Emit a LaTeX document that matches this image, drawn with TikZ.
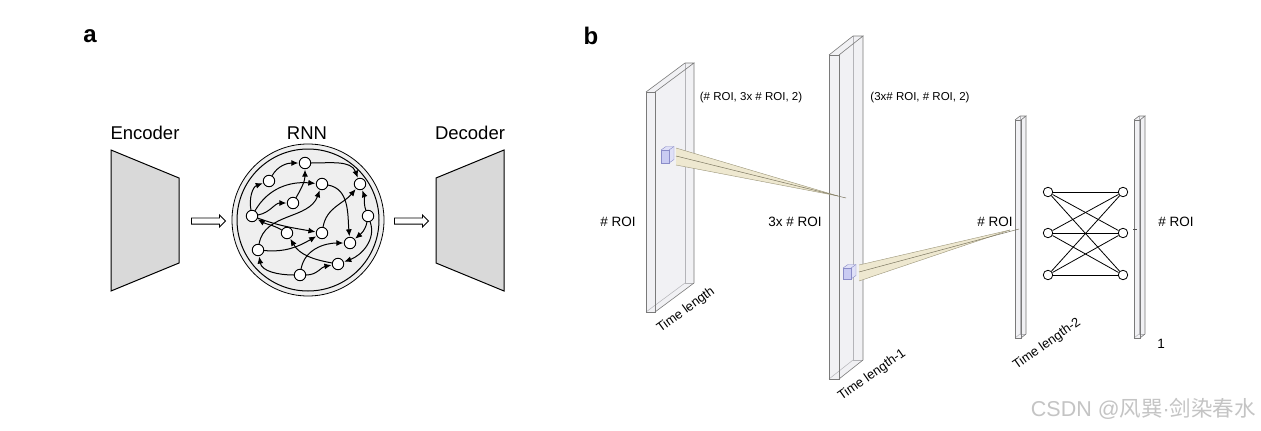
\documentclass[tikz,border=0pt]{standalone}
\usepackage{fontspec}
\setmainfont{Liberation Sans}
\newfontfamily\cjk{Noto Sans CJK SC}
\usetikzlibrary{arrows.meta,shapes.arrows}
\definecolor{trapgray}{HTML}{D9D9D9}
\definecolor{rnnfill}{HTML}{EFEFEF}
\definecolor{slabfill}{HTML}{F1F1F4}
\definecolor{slabedge}{HTML}{7A7A7A}
\definecolor{slabhid}{HTML}{B4B4B8}
\definecolor{kernfill}{HTML}{C9CBF2}
\definecolor{kernedge}{HTML}{8A8CC8}
\definecolor{beamfill}{HTML}{EEE8D0}
\definecolor{beamedge}{HTML}{9A9478}
\definecolor{wmgray}{HTML}{C4C4C4}
\newcommand\myslab[6]{% x, ytop, ybottom, w, dx, dy
  \fill[slabfill] (#1,#2) -- ++(#5,#6) -- ++(#4,0) -- (#1+#4+#5,#3+#6) -- (#1+#4,#3) -- (#1,#3) -- cycle;
  \draw[slabhid, line width=0.5] (#1+#5,#2+#6) -- (#1+#5,#3+#6) -- (#1+#4+#5,#3+#6);
  \draw[slabhid, line width=0.5] (#1+#5,#3+#6) -- (#1,#3);
  \draw[slabedge, line width=0.6] (#1,#2) rectangle (#1+#4,#3);
  \draw[slabedge, line width=0.6] (#1,#2) -- ++(#5,#6) -- ++(#4,0) -- (#1+#4,#2);
  \draw[slabedge, line width=0.6] (#1+#4+#5,#2+#6) -- (#1+#4+#5,#3+#6) -- (#1+#4,#3);
}
\newcommand\mykern[5]{% x, ytop, w, h, depth
  \fill[kernfill!60] (#1,#2) -- ++(#5,-#5*0.7) -- ++(#3,0) -- ++(0,#4) -- (#1+#3,#2+#4) -- (#1,#2+#4) -- cycle;
  \draw[kernedge, line width=0.4, fill=kernfill] (#1,#2) rectangle (#1+#3,#2+#4);
  \draw[kernedge, line width=0.4] (#1,#2) -- ++(#5,-#5*0.7) -- ++(#3,0) -- ++(0,#4) -- (#1+#3,#2+#4);
  \draw[kernedge, line width=0.4] (#1+#3,#2) -- ++(#5,-#5*0.7);
}
\tikzset{
  lbl/.style={font=\fontsize{18.5}{20}\selectfont, inner sep=0},
  panel/.style={font=\fontsize{24}{26}\selectfont\bfseries, inner sep=0},
  small/.style={font=\fontsize{11.5}{13}\selectfont, inner sep=0},
  tlen/.style={font=\fontsize{13}{15}\selectfont, inner sep=0},
  mid/.style={font=\fontsize{13.5}{15}\selectfont, inner sep=0},
  trap/.style={draw=black, line width=1, fill=trapgray},
  bigarrow/.style={single arrow, draw=black, line width=0.9, fill=white, minimum height=34, minimum width=12, single arrow head extend=3, inner sep=2.6},
  rn/.style={circle, draw=black, line width=0.9, fill=white, minimum size=11.5, inner sep=0},
  re/.style={line width=1.0, -{Latex[length=7pt,width=6pt]}, shorten >=0.5pt},
  fcn/.style={circle, draw=black, line width=0.8, fill=white, minimum size=9.5, inner sep=0},
  fce/.style={line width=0.8},
  beam/.style={fill=beamfill, draw=beamedge, line width=0.4}
}
\begin{document}
\begin{tikzpicture}[x=1pt,y=-1pt]
\useasboundingbox (0,0) rectangle (1261,431);
\fill[white] (0,0) rectangle (1261,431);
% panel labels
\node[panel] (pa) at (90,36) {a};
\node[panel] (pb) at (591,36) {b};
% ---------------- panel a ----------------
\node[lbl] (tenc) at (145,133) {Encoder};
\node[lbl] (trnn) at (307,133) {RNN};
\node[lbl] (tdec) at (470,133) {Decoder};
\draw[trap] (111,150) -- (179,178) -- (179,263) -- (111,291) -- cycle;
\draw[trap] (436,178) -- (504,150) -- (504,291) -- (436,263) -- cycle;
\node[bigarrow] (ar1) at (207,221) {};
\node[bigarrow] (ar2) at (410,221) {};
\node[circle, draw=black, line width=0.8, fill=rnnfill, minimum size=152, inner sep=0] (rnn) at (308,220) {};
\node[circle, draw=black, line width=1.0, minimum size=142, inner sep=0] (rnnin) at (308,220) {};
% RNN nodes
\node[rn] (r1) at (305,163) {};
\node[rn] (r2) at (269,181) {};
\node[rn] (r3) at (322,184) {};
\node[rn] (r4) at (360,184) {};
\node[rn] (r5) at (293,203) {};
\node[rn] (r6) at (252,216) {};
\node[rn] (r7) at (368,216) {};
\node[rn] (r8) at (287,233) {};
\node[rn] (r9) at (322,233) {};
\node[rn] (r10) at (350,243) {};
\node[rn] (r11) at (258,250) {};
\node[rn] (r12) at (338,264) {};
\node[rn] (r13) at (300,275) {};
% RNN edges
\draw[re] (r2) to[out=60, in=180] (r1);
\draw[re] (r6) to[out=100, in=200] (r2);
\draw[re] (r1) to[out=0, in=110] (r4);
\draw[re] (r5) to[out=60, in=-90] (r1);
\draw[re] (r6) to[out=60, in=175] (r3);
\draw[re] (r6) to[out=10, in=180] (r5);
\draw[re] (r3) to[out=-10, in=95] (r10);
\draw[re] (r7) to[out=110, in=-70] (r4);
\draw[re] (r9) to[out=80, in=-130] (r4);
\draw[re] (r8) to[out=150, in=-30] (r6);
\draw[re] (r6) to[out=-20, in=170] (r9);
\draw[re] (r11) to[out=-5, in=-150] (r9);
\draw[re] (r12) to[out=170, in=-60] (r8);
\draw[re] (r13) to[out=80, in=180] (r10);
\draw[re] (r13) to[out=180, in=-80] (r11);
\draw[re] (r13) to[out=0, in=190] (r12);
\draw[re] (r7) to[out=-100, in=40] (r10);
\draw[re] (r7) to[out=-70, in=20] (r12);
\draw[re] (r11) to[out=80, in=-110] (r3);
% ---------------- panel b ----------------
\myslab{646}{92}{312}{9}{39}{-29}
\myslab{829}{55}{379}{10}{24}{-19}
\myslab{1015}{120}{338}{6}{5}{-4}
\myslab{1134}{120}{338}{6}{5}{-4}
% named anchors
\coordinate (k1) at (676,156);
\coordinate (t1) at (846,198);
\coordinate (k2) at (859,272);
\coordinate (t2) at (1019,229);
% beams
\fill[beamfill] (676,148) -- (838,196) -- (676,165) -- cycle;
\draw[beamedge, line width=0.4] (676,148) -- (838,196);
\draw[beamedge, line width=0.4] (676,165) -- (838,196);
\draw[beamedge!80!black, line width=0.5] (k1) -- (t1);
\mykern{661}{150}{8}{13}{5}
\fill[beamfill] (859,265) -- (1010,230) -- (859,281) -- cycle;
\draw[beamedge, line width=0.4] (859,265) -- (1010,230);
\draw[beamedge, line width=0.4] (859,281) -- (1010,230);
\draw[beamedge!80!black, line width=0.5] (k2) -- (t2);
\mykern{843}{268}{8}{11}{5}
\draw[black!70, line width=0.5] (1133,229) -- (1137,229);
% labels
\node[small] (s1) at (751,98) {(\# ROI, 3x \# ROI, 2)};
\node[small] (s2) at (920,98) {(3x\# ROI, \# ROI, 2)};
\node[mid] (l1) at (618,222) {\# ROI};
\node[mid] (l2) at (795,222) {3x \# ROI};
\node[mid] (l3) at (995,222) {\# ROI};
\node[mid] (l4) at (1176,222) {\# ROI};
\node[tlen, rotate=36] (tl1) at (686,310) {Time length};
\node[tlen, rotate=35] (tl2) at (872,375) {Time length-1};
\node[tlen, rotate=35] (tl3) at (1047,344) {Time length-2};
\node[mid] (one) at (1161,344) {1};
% FC network
\node[fcn] (a1) at (1048,192) {};
\node[fcn] (a2) at (1048,233) {};
\node[fcn] (a3) at (1048,275) {};
\node[fcn] (b1) at (1123,192) {};
\node[fcn] (b2) at (1123,233) {};
\node[fcn] (b3) at (1123,275) {};
\foreach \i in {1,2,3}{\foreach \j in {1,2,3}{\draw[fce] (a\i) -- (b\j);}}
% watermark
\node[font=\fontsize{21.5}{23}\selectfont, text=wmgray, inner sep=0, anchor=east] (wm) at (1256,409) {CSDN @{\cjk 风巽}·{\cjk 剑染春水}};
\end{tikzpicture}
\end{document}
